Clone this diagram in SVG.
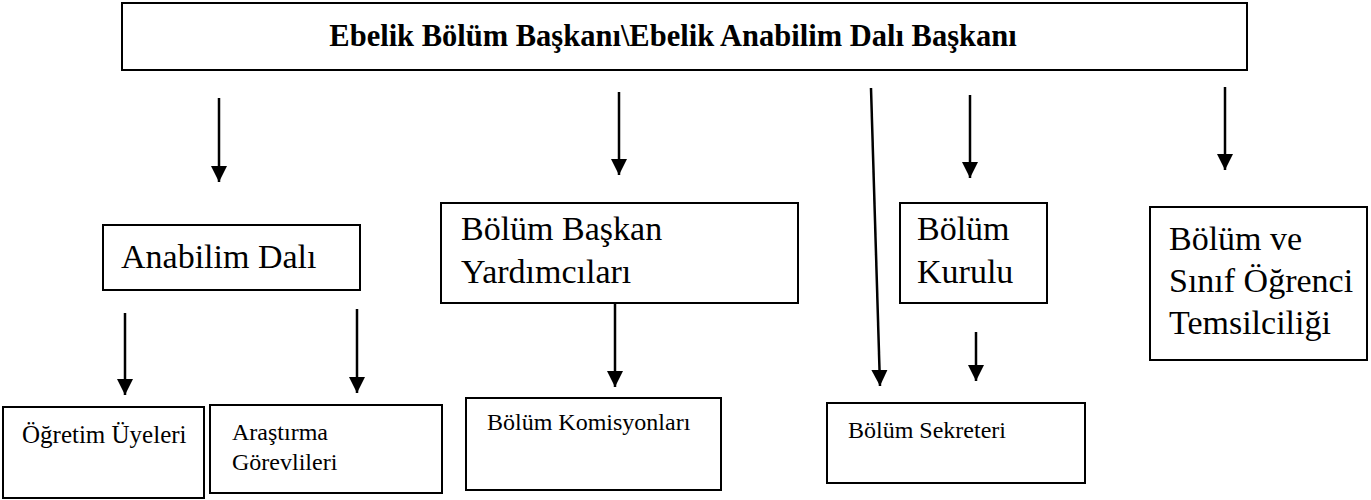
<svg xmlns="http://www.w3.org/2000/svg" width="1371" height="500" viewBox="0 0 1371 500">
<style>
.box{fill:#fff;stroke:#000;stroke-width:2}
.t{font-family:"Liberation Serif","Times New Roman",serif;fill:#000}
.h{font-size:30.5px;font-weight:bold}
.l{font-size:34px}
.s{font-size:24px}
.c{stroke:#000;stroke-width:2.5;fill:none}
</style>
<defs>
<marker id="ah" viewBox="0 0 10 10" refX="10" refY="5" markerWidth="6.5" markerHeight="6.5" markerUnits="strokeWidth" orient="auto">
<path d="M0,0 L10,5 L0,10 z" fill="#000"/>
</marker>
</defs>
<g id="head">
<rect class="box" x="122" y="3" width="1125" height="67"/>
<text class="t h" x="673" y="46" text-anchor="middle">Ebelik Bölüm Başkanı\Ebelik Anabilim Dalı Başkanı</text>
</g>
<g id="anabilim">
<rect class="box" x="103" y="225" width="257" height="65"/>
<text class="t l" x="121" y="268">Anabilim Dalı</text>
</g>
<g id="baskanyard">
<rect class="box" x="441" y="203" width="357" height="100"/>
<text class="t l" x="461" y="240">Bölüm Başkan</text>
<text class="t l" x="461" y="283">Yardımcıları</text>
</g>
<g id="kurul">
<rect class="box" x="900" y="203" width="147" height="100"/>
<text class="t l" x="917" y="240">Bölüm</text>
<text class="t l" x="917" y="283">Kurulu</text>
</g>
<g id="temsil">
<rect class="box" x="1150" y="207" width="217" height="153"/>
<text class="t l" x="1169" y="250">Bölüm ve</text>
<text class="t l" x="1169" y="292">Sınıf Öğrenci</text>
<text class="t l" x="1169" y="334">Temsilciliği</text>
</g>
<g id="ogretim">
<rect class="box" x="3" y="407" width="201" height="91"/>
<text class="t s" x="22" y="443" style="font-size:25px">Öğretim Üyeleri</text>
</g>
<g id="arastirma">
<rect class="box" x="210" y="405" width="232" height="88"/>
<text class="t s" x="232" y="440">Araştırma</text>
<text class="t s" x="232" y="470">Görevlileri</text>
</g>
<g id="komisyon">
<rect class="box" x="466" y="398" width="255" height="92"/>
<text class="t s" x="487" y="430">Bölüm Komisyonları</text>
</g>
<g id="sekreter">
<rect class="box" x="827" y="403" width="258" height="80"/>
<text class="t s" x="848" y="438">Bölüm Sekreteri</text>
</g>
<g id="connectors">
<line class="c" x1="219" y1="98" x2="219" y2="182" marker-end="url(#ah)"/>
<line class="c" x1="619" y1="92" x2="619" y2="175" marker-end="url(#ah)"/>
<line class="c" x1="871" y1="88" x2="880" y2="386" marker-end="url(#ah)"/>
<line class="c" x1="970" y1="95" x2="970" y2="178" marker-end="url(#ah)"/>
<line class="c" x1="1225" y1="87" x2="1225" y2="170" marker-end="url(#ah)"/>
<line class="c" x1="125" y1="313" x2="125" y2="395" marker-end="url(#ah)"/>
<line class="c" x1="357" y1="309" x2="357" y2="393" marker-end="url(#ah)"/>
<line class="c" x1="615" y1="303" x2="615" y2="387" marker-end="url(#ah)"/>
<line class="c" x1="976" y1="332" x2="976" y2="381" marker-end="url(#ah)"/>
</g>
</svg>
